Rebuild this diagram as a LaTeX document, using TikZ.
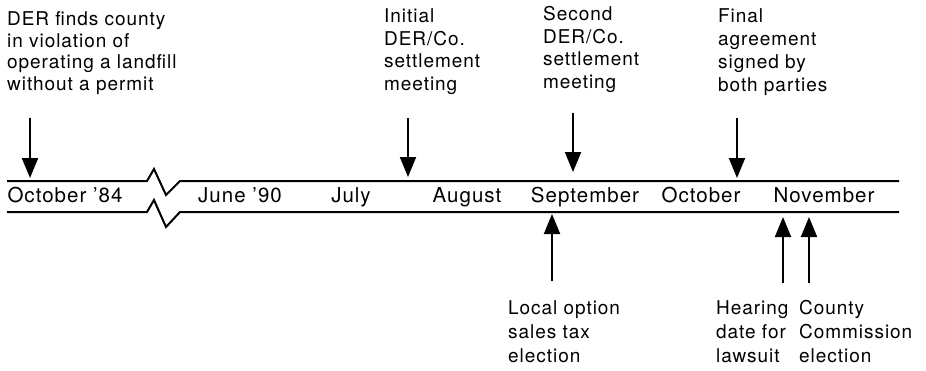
\documentclass[tikz,border=0pt]{standalone}
\usepackage{fontspec}
\setmainfont{TeX Gyre Heros}[LetterSpace=5]
\usetikzlibrary{arrows.meta}
\begin{document}
\begin{tikzpicture}[x=1pt,y=-1pt,
  lbl/.style={anchor=base west, inner sep=0, align=left, font=\fontsize{19}{23}\selectfont},
  mon/.style={anchor=base, inner sep=0, font=\fontsize{20.5}{24}\selectfont},
  axisline/.style={line width=2pt},
  evarrow/.style={line width=2pt, -{Triangle[length=20pt,width=16pt]}}]
\useasboundingbox (0,0) rectangle (926,370);
% time strip
\draw[axisline] (7,181) -- (147,181) -- (154,169) -- (166,195) -- (180,181) -- (899,181);
\draw[axisline] (7,212) -- (147,212) -- (154,200) -- (166,227) -- (180,212) -- (899,212);
% month labels
\node[mon] (m1) at (65,202) {October '84};
\node[mon] (m2) at (240,202) {June '90};
\node[mon] (m3) at (351,202) {July};
\node[mon] (m4) at (467,202) {August};
\node[mon] (m5) at (585,202) {September};
\node[mon] (m6) at (701,202) {October};
\node[mon] (m7) at (824,202) {November};
% top labels (anchored at the baseline of the last line)
\node[lbl, font=\fontsize{19}{21.5}\selectfont] (l1) at (7,90) {DER finds county\\in violation of\\operating a landfill\\without a permit};
\node[lbl, font=\fontsize{19}{22.5}\selectfont] (l2) at (384,90) {Initial\\DER/Co.\\settlement\\meeting};
\node[lbl, font=\fontsize{19}{22.5}\selectfont] (l3) at (543,88) {Second\\DER/Co.\\settlement\\meeting};
\node[lbl] (l4) at (718,91) {Final\\agreement\\signed by\\both parties};
% bottom labels
\node[lbl, font=\fontsize{19}{24}\selectfont] (l5) at (508,362) {Local option\\sales tax\\election};
\node[lbl, font=\fontsize{19}{24}\selectfont] (l6) at (716,362) {Hearing\\date for\\lawsuit};
\node[lbl, font=\fontsize{19}{24}\selectfont] (l7) at (799,362) {County\\Commission\\election};
% arrow coordinates
\coordinate (a1s) at (30,118);  \coordinate (a1e) at (30,178);
\coordinate (a2s) at (408,118); \coordinate (a2e) at (408,177);
\coordinate (a3s) at (573,113); \coordinate (a3e) at (573,172);
\coordinate (a4s) at (737,118); \coordinate (a4e) at (737,178);
\coordinate (b1s) at (552,281); \coordinate (b1e) at (552,214);
\coordinate (b2s) at (783,283); \coordinate (b2e) at (783,217);
\coordinate (b3s) at (809,283); \coordinate (b3e) at (809,217);
\draw[evarrow] (a1s) -- (a1e);
\draw[evarrow] (a2s) -- (a2e);
\draw[evarrow] (a3s) -- (a3e);
\draw[evarrow] (a4s) -- (a4e);
\draw[evarrow] (b1s) -- (b1e);
\draw[evarrow] (b2s) -- (b2e);
\draw[evarrow] (b3s) -- (b3e);
\end{tikzpicture}
\end{document}
